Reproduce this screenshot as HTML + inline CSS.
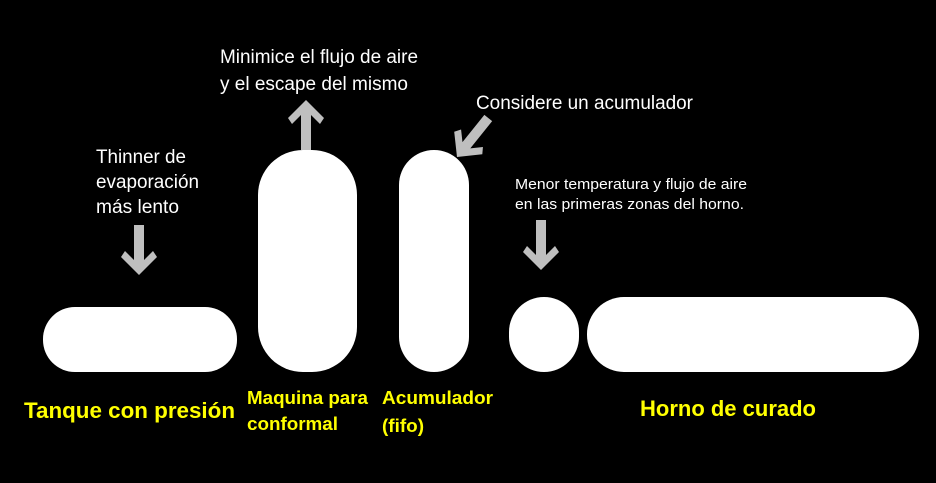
<!DOCTYPE html>
<html><head><meta charset="utf-8"><style>
html,body{margin:0;padding:0;background:#000;}
svg{display:block}
text{font-family:"Liberation Sans",Arial,sans-serif;}
.w{fill:#fff;font-size:19px}
.s{fill:#fff;font-size:15px}
.y{fill:#ffff00;font-size:22px;font-weight:bold}
.y2{fill:#ffff00;font-size:18px;font-weight:bold}
</style></head><body>
<svg width="936" height="483" viewBox="0 0 936 483">
<defs>
<polygon id="ar" points="-5,-50 5,-50 5,-15 14,-24 18,-18 0,0 -18,-18 -14,-24 -5,-15"/>
</defs>
<rect width="936" height="483" fill="#000"/>
<rect x="43" y="307" width="194" height="65" rx="32" ry="32" fill="#fff"/>
<rect x="258" y="150" width="99" height="222" rx="45" ry="45" fill="#fff"/>
<rect x="399" y="150" width="70" height="222" rx="35" ry="35" fill="#fff"/>
<rect x="509" y="297" width="70" height="75" rx="35" ry="35" fill="#fff"/>
<rect x="587" y="297" width="332" height="75" rx="37" ry="37" fill="#fff"/>
<g fill="#bfbfbf">
<use href="#ar" transform="translate(139,275)"/>
<use href="#ar" transform="translate(306,100) rotate(180)"/>
<use href="#ar" transform="translate(541,270)"/>
<use href="#ar" transform="translate(457,157) rotate(38.7)"/>
</g>
<text class="w" x="96" y="163" textLength="90" lengthAdjust="spacingAndGlyphs">Thinner de</text>
<text class="w" x="96" y="188" textLength="103" lengthAdjust="spacingAndGlyphs">evaporación</text>
<text class="w" x="96" y="213" textLength="83" lengthAdjust="spacingAndGlyphs">más lento</text>
<text class="w" x="220" y="63" textLength="198" lengthAdjust="spacingAndGlyphs">Minimice el flujo de aire</text>
<text class="w" x="220" y="90" textLength="188" lengthAdjust="spacingAndGlyphs">y el escape del mismo</text>
<text class="w" x="476" y="109" textLength="217" lengthAdjust="spacingAndGlyphs">Considere un acumulador</text>
<text class="s" x="515" y="189" textLength="232" lengthAdjust="spacingAndGlyphs">Menor temperatura y flujo de aire</text>
<text class="s" x="515" y="209" textLength="229" lengthAdjust="spacingAndGlyphs">en las primeras zonas del horno.</text>
<text class="y" x="24" y="418" textLength="211" lengthAdjust="spacingAndGlyphs">Tanque con presión</text>
<text class="y2" x="247" y="404" textLength="121" lengthAdjust="spacingAndGlyphs">Maquina para</text>
<text class="y2" x="247" y="430" textLength="91" lengthAdjust="spacingAndGlyphs">conformal</text>
<text class="y2" x="382" y="404" textLength="111" lengthAdjust="spacingAndGlyphs">Acumulador</text>
<text class="y2" x="382" y="432" textLength="42" lengthAdjust="spacingAndGlyphs">(fifo)</text>
<text class="y" x="640" y="416" textLength="176" lengthAdjust="spacingAndGlyphs">Horno de curado</text>
</svg>
</body></html>
